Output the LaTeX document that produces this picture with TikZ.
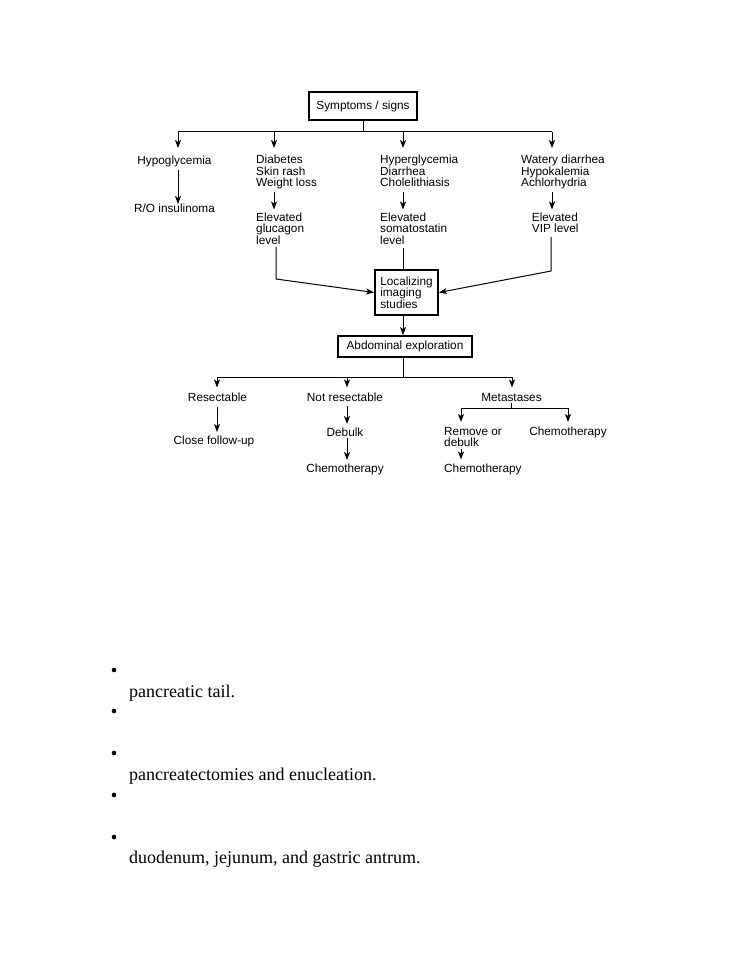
\documentclass[tikz,border=0pt]{standalone}
\usepackage{fontspec}
\setmainfont{Liberation Serif}
\newfontfamily\dgfamily{Liberation Sans}
\newcommand\dgf{\dgfamily\fontsize{11.8}{11.6}\selectfont}
\usetikzlibrary{arrows.meta}
\begin{document}
\begin{tikzpicture}[x=1pt,y=-1pt,
  lbl/.style={font=\dgf, inner sep=0pt, align=left, anchor=north west},
  ctr/.style={font=\dgf, inner sep=0pt, align=center, anchor=north},
  boxed/.style={draw, line width=1.8pt, font=\dgf, inner sep=0pt, align=left},
  ln/.style={line width=1pt},
  arr/.style={ln, -{Stealth[length=8pt,width=6pt,inset=2pt]}},
  bul/.style={circle, fill, inner sep=0pt, minimum size=4.6pt},
  btxt/.style={font=\fontsize{18}{20}\selectfont, inner sep=0pt, anchor=base west}
]
\useasboundingbox (0,0) rectangle (741,960);

% top
\node[boxed, minimum width=108pt, minimum height=28pt] (sym) at (363,106) {Symptoms / signs};
\coordinate (j0) at (363,132);
\coordinate (b1) at (178,132);
\coordinate (b2) at (274,132);
\coordinate (b3) at (403,132);
\coordinate (b4) at (552,132);

\node[ctr] (hypo) at (174.5,155.5) {Hypoglycemia};
\node[ctr] (ro) at (174.5,204) {R/O insulinoma};
\node[lbl] (diab) at (256,155) {Diabetes\\Skin rash\\Weight loss};
\node[lbl] (eglu) at (256,212.5) {Elevated\\glucagon\\level};
\node[lbl] (hyper) at (380,155) {Hyperglycemia\\Diarrhea\\Cholelithiasis};
\node[lbl] (esom) at (380,212.5) {Elevated\\somatostatin\\level};
\node[lbl] (water) at (521,155) {Watery diarrhea\\Hypokalemia\\Achlorhydria};
\node[lbl] (evip) at (531.7,212.5) {Elevated\\VIP level};

\node[boxed, minimum width=63pt, minimum height=45pt] (loc) at (406.5,292.5) {Localizing\\imaging\\studies};
\node[boxed, align=center, minimum width=134pt, minimum height=21pt] (abd) at (405,346.5) {Abdominal exploration};

\draw[ln] (sym.south -| j0) -- (j0);
\draw[ln] (b1) -- (b4);
\draw[arr] (b1) -- (178,148);
\draw[arr] (b2) -- (274,148);
\draw[arr] (b3) -- (403,148);
\draw[arr] (b4) -- (552,148);

\draw[arr] (b1 |- hypo.south) ++(0,3.5) -- (b1 |- ro.north);
\draw[arr, shorten >=3pt] (274,192) -- (b2 |- eglu.north);
\draw[arr, shorten >=3pt] (403,192) -- (b3 |- esom.north);
\draw[arr, shorten >=3pt] (552,192) -- (b4 |- evip.north);

\coordinate (j1) at (403,377);
\draw[ln] (403,248) -- (b3 |- loc.north);
\draw[arr] (276,247) -- (276,279) -- (loc.west);
\draw[arr] (551,237) -- (551,271) -- (loc.east);
\draw[arr] (b3 |- loc.south) -- (b3 |- abd.north);

% bottom
\coordinate (c1) at (217,377);
\coordinate (c2) at (347,377);
\coordinate (c3) at (512,377);
\draw[ln] (j1 |- abd.south) -- (j1);
\draw[ln] (c1) -- (c3);
\draw[arr] (c1) -- (217,387.5);
\draw[arr] (c2) -- (347,387.5);
\draw[arr] (c3) -- (512,387.5);

\node[ctr] (res) at (217.5,393) {Resectable};
\node[ctr] (cfu) at (214,436) {Close follow-up};
\node[ctr] (notr) at (345,393) {Not resectable};
\node[ctr] (deb) at (345,428) {Debulk};
\node[ctr] (chemoa) at (345,464) {Chemotherapy};
\node[ctr] (meta) at (511.5,393) {Metastases};
\node[lbl] (rem) at (444,427) {Remove or\\debulk};
\node[ctr] (chemoc) at (568,427) {Chemotherapy};
\node[lbl] (chemob) at (444,464) {Chemotherapy};

\draw[arr] (217,407) -- (217,432);
\draw[arr] (347,406) -- (347,424);
\draw[arr] (347,438) -- (347,460);
\coordinate (m0) at (511.5,408);
\coordinate (m1) at (461,408);
\coordinate (m2) at (568,408);
\draw[ln] (meta.south) ++(0,1) -- (m0);
\draw[ln] (m1) -- (m2);
\draw[arr] (m1) -- (461,422);
\draw[arr] (m2) -- (568,422);
\draw[arr] (461,449) -- (461,459.5);

% bullets
\node[bul] (u1) at (114,670) {};
\node[bul] (u2) at (114,711) {};
\node[bul] (u3) at (114,753) {};
\node[bul] (u4) at (114,795) {};
\node[bul] (u5) at (114,837) {};
\node[btxt] (t1) at (129,697) {pancreatic tail.};
\node[btxt] (t2) at (129,780) {pancreatectomies and enucleation.};
\node[btxt] (t3) at (129,863) {duodenum, jejunum, and gastric antrum.};
\end{tikzpicture}
\end{document}
